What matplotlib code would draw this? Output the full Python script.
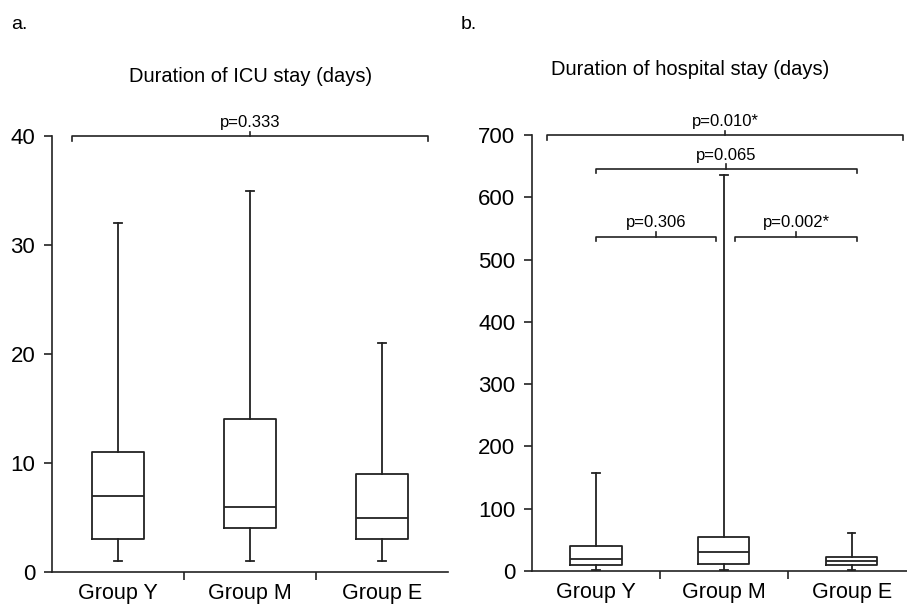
import matplotlib.pyplot as plt

plt.rcParams["font.family"] = ["Liberation Sans", "DejaVu Sans"]

groups = ["Group Y", "Group M", "Group E"]

# ICU stay (days): whislo, q1, median, q3, whishi
icu_lo = [1, 1, 1]
icu_q1 = [3, 4, 3]
icu_med = [7, 6, 5]
icu_q3 = [11, 14, 9]
icu_hi = [32, 35, 21]

# hospital stay (days)
hosp_lo = [1, 1, 2]
hosp_q1 = [10, 12, 10]
hosp_med = [20, 30, 16]
hosp_q3 = [40, 55, 23]
hosp_hi = [157, 636, 61]

icu_pvals = ["p=0.333"]
icu_pairs = [(-0.35, 2.35)]
icu_levels = [40]

hosp_pvals = ["p=0.010*", "p=0.065", "p=0.306", "p=0.002*"]
hosp_pairs = [(-0.38, 2.4), (0, 2.04), (0, 0.94), (1.09, 2.04)]
hosp_levels = [700, 646, 537, 537]

LC = "#222222"


def stats(lo, q1, med, q3, hi):
    return [dict(whislo=a, q1=b, med=c, q3=d, whishi=e, fliers=[])
            for a, b, c, d, e in zip(lo, q1, med, q3, hi)]


def draw_panel(ax, st, ymax, yticks, pvals, pairs, levels, tick_h, text_off, xmax):
    props = dict(color=LC, linewidth=1.3)
    ax.bxp(st, positions=range(len(st)), widths=0.4, capwidths=0.06,
           boxprops=props, whiskerprops=props, capprops=props,
           medianprops=props, showfliers=False)
    ax.set_xlim(-0.5, xmax)
    ax.set_ylim(0, ymax)
    ax.set_yticks(yticks)
    ax.set_xticks(range(len(groups)))
    ax.set_xticklabels(groups, fontsize=15.5)
    ax.set_xticks([0.5, 1.5], minor=True)
    ax.tick_params(axis="x", which="major", length=0, pad=8)
    ax.tick_params(axis="x", which="minor", length=6, width=1.2, color=LC)
    ax.tick_params(axis="y", length=6, width=1.2, color=LC, labelsize=16, pad=6)
    for s in ["top", "right"]:
        ax.spines[s].set_visible(False)
    for s in ["left", "bottom"]:
        ax.spines[s].set_linewidth(1.2)
        ax.spines[s].set_color(LC)

    for txt, (x0, x1), y in zip(pvals, pairs, levels):
        xm = (x0 + x1) / 2
        ax.plot([x0, x0, x1, x1], [y - tick_h, y, y, y - tick_h],
                color=LC, lw=1.2, clip_on=False)
        ax.plot([xm, xm], [y, y + tick_h], color=LC, lw=1.2, clip_on=False)
        ax.text(xm, y + text_off, txt, ha="center", va="bottom",
                fontsize=12, clip_on=False)


fig = plt.figure(figsize=(9.07, 6.13), dpi=100)
ax1 = fig.add_axes([0.0573, 0.0669, 0.4366, 0.711])
ax2 = fig.add_axes([0.5866, 0.0685, 0.4256, 0.711])

draw_panel(ax1, stats(icu_lo, icu_q1, icu_med, icu_q3, icu_hi), 40,
           [0, 10, 20, 30, 40], icu_pvals, icu_pairs, icu_levels, 0.4, 0.6, 2.5)
draw_panel(ax2, stats(hosp_lo, hosp_q1, hosp_med, hosp_q3, hosp_hi), 700,
           [0, 100, 200, 300, 400, 500, 600, 700], hosp_pvals, hosp_pairs,
           hosp_levels, 7, 10, 2.52)

fig.text(0.276, 0.866, "Duration of ICU stay (days)", ha="center", fontsize=14.5)
fig.text(0.761, 0.878, "Duration of hospital stay (days)", ha="center", fontsize=14.5)
fig.text(0.012, 0.952, "a.", fontsize=14)
fig.text(0.508, 0.952, "b.", fontsize=14)

fig.savefig("out.png", dpi=100)
